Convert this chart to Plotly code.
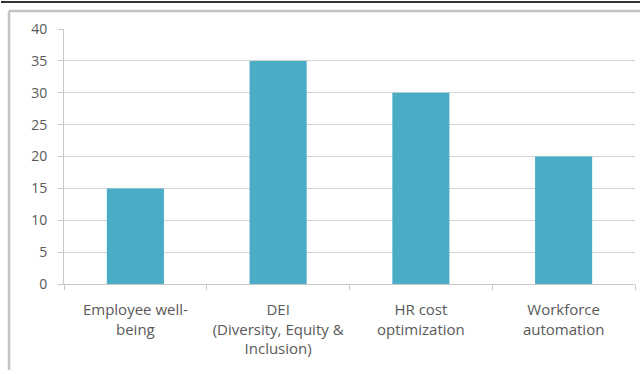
import plotly.graph_objects as go

# Survey topics and their scores
categories = [
    "Employee well-<br>being",
    "DEI<br>(Diversity, Equity &<br>Inclusion)",
    "HR cost<br>optimization",
    "Workforce<br>automation",
]
values = [15, 35, 30, 20]
y_ticks = [0, 5, 10, 15, 20, 25, 30, 35, 40]

W, H = 643, 374
L, R, T, B = 64, 8, 29, 90
pw, ph = W - L - R, H - T - B


def px_x(p):
    return (p - L) / pw


def px_y(p):
    return (H - B - p) / ph


fig = go.Figure(
    go.Bar(
        x=categories,
        y=values,
        marker=dict(color="#4bacc6", line=dict(width=0)),
        width=0.4,
    )
)

fig.update_layout(
    width=W,
    height=H,
    margin=dict(l=L, r=R, t=T, b=B),
    paper_bgcolor="white",
    plot_bgcolor="white",
    showlegend=False,
    font=dict(family="Open Sans", size=14, color="#595959"),
    shapes=[
        # chart frame: left and top edges
        dict(type="line", xref="paper", yref="paper",
             x0=px_x(9), x1=px_x(9), y0=px_y(11), y1=px_y(370),
             line=dict(color="#c4c4c4", width=2.5)),
        dict(type="line", xref="paper", yref="paper",
             x0=px_x(9), x1=px_x(640), y0=px_y(11), y1=px_y(11),
             line=dict(color="#c4c4c4", width=2.5)),
        # dark rule across the top
        dict(type="line", xref="paper", yref="paper",
             x0=px_x(1), x1=px_x(640), y0=px_y(2), y1=px_y(2),
             line=dict(color="#333333", width=2)),
    ],
)

fig.update_xaxes(
    showline=True,
    linecolor="#c8c8c8",
    linewidth=1,
    ticks="outside",
    ticklen=5,
    tickcolor="#c8c8c8",
    tickson="boundaries",
    showgrid=False,
    tickangle=0,
    ticklabelstandoff=12,
    tickfont=dict(size=15, color="#595959"),
)

fig.update_yaxes(
    range=[0, 40],
    tickvals=y_ticks,
    showline=True,
    linecolor="#c8c8c8",
    linewidth=1,
    ticks="outside",
    ticklen=5,
    tickcolor="#c8c8c8",
    showgrid=True,
    gridcolor="#d4d4d4",
    gridwidth=1,
    zeroline=False,
    ticklabelstandoff=8,
    tickfont=dict(size=14, color="#595959"),
)

fig.write_html("out.html", config={"displayModeBar": False})
